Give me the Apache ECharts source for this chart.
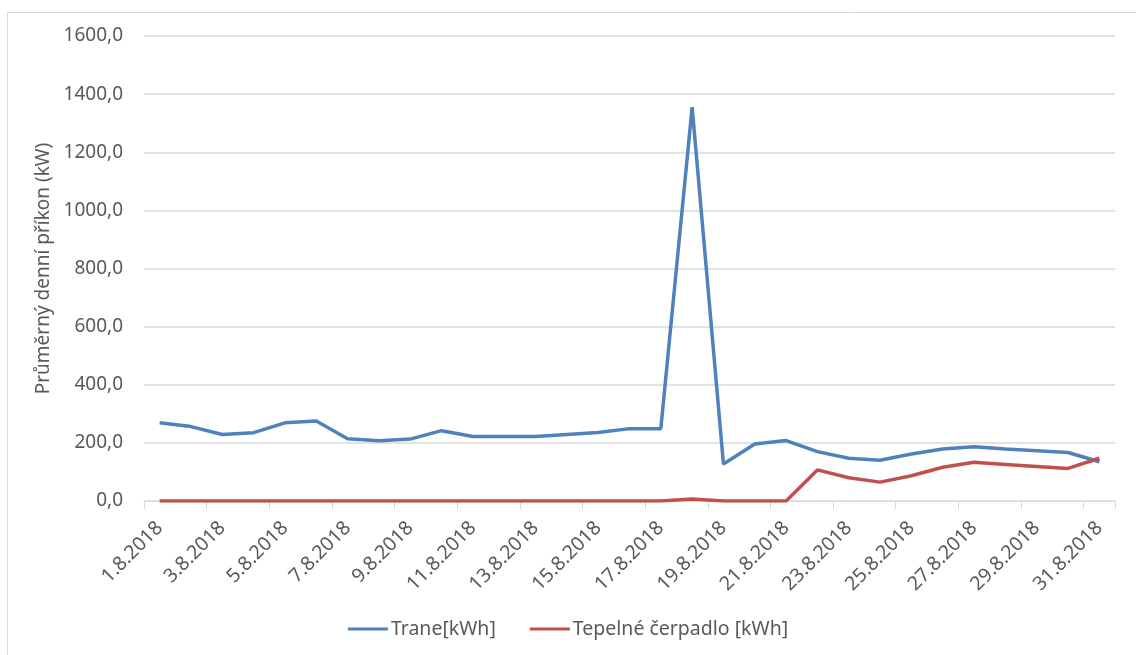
<!DOCTYPE html>
<html>
<head>
<meta charset="utf-8">
<script src="https://cdn.jsdelivr.net/npm/echarts@6/dist/echarts.min.js"></script>
<style>
  html, body { margin: 0; padding: 0; background: #ffffff; }
  #chart { width: 1136px; height: 655px; }
</style>
</head>
<body>
<div id="chart"></div>
<script>
// Days of August 2018
const days = [
  '1.8.2018','2.8.2018','3.8.2018','4.8.2018','5.8.2018','6.8.2018','7.8.2018','8.8.2018',
  '9.8.2018','10.8.2018','11.8.2018','12.8.2018','13.8.2018','14.8.2018','15.8.2018','16.8.2018',
  '17.8.2018','18.8.2018','19.8.2018','20.8.2018','21.8.2018','22.8.2018','23.8.2018','24.8.2018',
  '25.8.2018','26.8.2018','27.8.2018','28.8.2018','29.8.2018','30.8.2018','31.8.2018'
];

// Average daily input, Trane unit
const trane = [
  269, 256, 229, 235, 269, 275, 214, 207, 213, 242, 222, 222, 222, 229, 236, 249,
  249, 1355, 127, 196, 208, 170, 147, 140, 162, 179, 187, 179, 173, 167, 135
];

// Average daily input, heat pump
const heatPump = [
  0, 0, 0, 0, 0, 0, 0, 0, 0, 0, 0, 0, 0, 0, 0, 0,
  0, 7, 0, 0, 0, 107, 80, 65, 87, 116, 133, 126, 119, 112, 147
];

const seriesNames = ['Trane[kWh]', 'Tepelné čerpadlo [kWh]'];
const axisTitle = 'Průměrný denní příkon (kW)';

const textColor = '#595959';
const gridColor = '#d9d9d9';
const font = 'Noto Sans';

const chart = echarts.init(document.getElementById('chart'), null, { renderer: 'canvas' });

chart.setOption({
  backgroundColor: '#ffffff',
  animation: false,
  textStyle: { fontFamily: font, color: textColor },
  graphic: [{
    type: 'rect',
    shape: { x: 7.5, y: 12.5, width: 1200, height: 700 },
    style: { fill: 'none', stroke: gridColor, lineWidth: 1 },
    silent: true
  }],
  grid: { left: 144, right: 21, top: 36, bottom: 154 },
  legend: {
    bottom: 11,
    left: 'center',
    itemWidth: 40,
    itemHeight: 3,
    itemGap: 34,
    icon: 'rect',
    textStyle: { fontFamily: font, fontSize: 19.5, color: textColor, padding: [0, 0, 0, -2] },
    data: seriesNames
  },
  xAxis: {
    type: 'category',
    data: days,
    boundaryGap: true,
    axisLine: { lineStyle: { color: gridColor, width: 1 } },
    axisTick: { show: true, interval: 1, length: 8, lineStyle: { color: gridColor } },
    axisLabel: {
      interval: 1,
      rotate: 45,
      margin: 24,
      fontFamily: font,
      fontSize: 19.5,
      color: textColor
    },
    splitLine: { show: false }
  },
  yAxis: {
    type: 'value',
    min: 0,
    max: 1600,
    interval: 200,
    name: axisTitle,
    nameLocation: 'middle',
    nameGap: 89,
    nameTextStyle: { fontFamily: font, fontSize: 19, color: textColor },
    axisLine: { show: false },
    axisTick: { show: false },
    axisLabel: {
      margin: 21,
      fontFamily: font,
      fontSize: 19,
      color: textColor,
      formatter: v => v.toFixed(1).replace('.', ',')
    },
    splitLine: { lineStyle: { color: gridColor, width: 1.5 } }
  },
  series: [
    {
      name: seriesNames[0],
      type: 'line',
      data: trane,
      symbol: 'none',
      lineStyle: { color: '#4f81bd', width: 3.5 },
      itemStyle: { color: '#4f81bd' },
      z: 2
    },
    {
      name: seriesNames[1],
      type: 'line',
      data: heatPump,
      symbol: 'none',
      lineStyle: { color: '#c0504d', width: 3.5 },
      itemStyle: { color: '#c0504d' },
      z: 3
    }
  ]
});
</script>
</body>
</html>
